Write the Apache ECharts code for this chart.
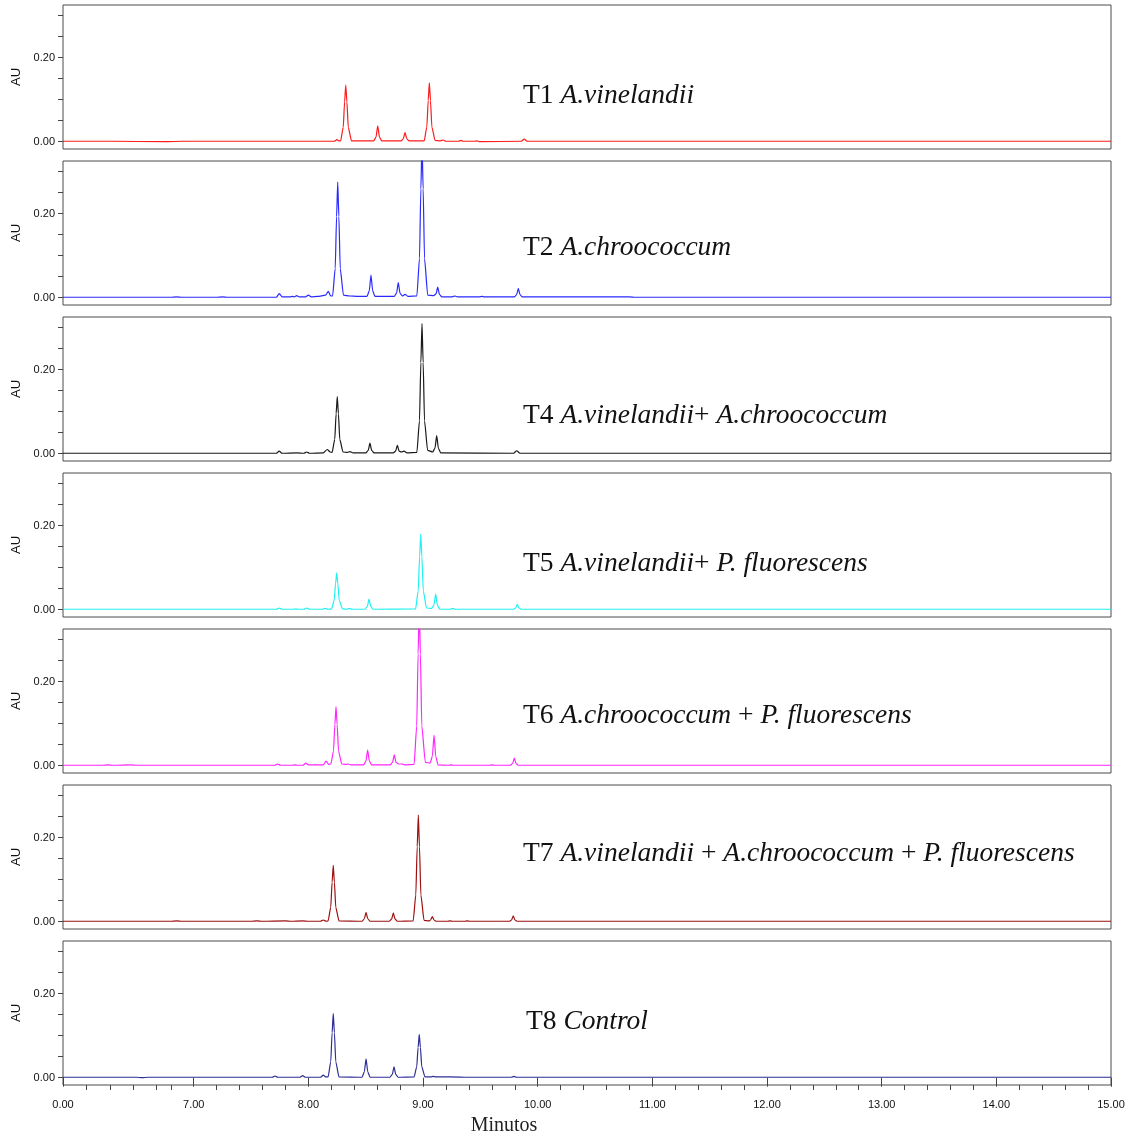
<!DOCTYPE html>
<html><head><meta charset="utf-8">
<script src="https://cdn.jsdelivr.net/npm/echarts@6/dist/echarts.min.js"></script>
<style>html,body{margin:0;padding:0;background:#fff}#c{width:1130px;height:1139px}</style>
</head><body><div id="c"></div><script>
// ---- data ----
const xMin = 5.86, xMax = 15;
const xLabelValues = [5.86, 7, 8, 9, 10, 11, 12, 13, 14, 15];
const xMinorTicks = [6.06, 6.27, 6.47, 6.67, 6.8, 7.2, 7.4, 7.6, 7.8, 8.2, 8.4, 8.6, 8.8, 9.2, 9.4, 9.6, 9.8, 10.2, 10.4, 10.6, 10.8, 11.2, 11.4, 11.6, 11.8, 12.2, 12.4, 12.6, 12.8, 13.2, 13.4, 13.6, 13.8, 14.2, 14.4, 14.6, 14.8];
const yTickValues = [0, 0.05, 0.1, 0.15, 0.2, 0.25, 0.3];
const yLabelValues = [0, 0.2];
const panelNames = ['T1', 'T2', 'T4', 'T5', 'T6', 'T7', 'T8'];
const panelLabels = [
  '{n|T1 }{i|A.vinelandii}',
  '{n|T2 }{i|A.chroococcum}',
  '{n|T4 }{i|A.vinelandii}{n|+ }{i|A.chroococcum}',
  '{n|T5 }{i|A.vinelandii}{n|+ }{i|P. fluorescens}',
  '{n|T6 }{i|A.chroococcum}{n| + }{i|P. fluorescens}',
  '{n|T7 }{i|A.vinelandii}{n| + }{i|A.chroococcum}{n| + }{i|P. fluorescens}',
  '{n|T8 }{i|Control}'
];
const traceT1 = [[5.86,0.001],[6.3,0.001],[6.75,0.0],[6.9,0.001],[7.5,0.001],[8.225,0.001],[8.25,0.005],[8.265,0.002],[8.281,0.002],[8.304,0.034],[8.316,0.095],[8.326,0.135],[8.336,0.095],[8.348,0.034],[8.376,0.002],[8.57,0.002],[8.59,0.011],[8.605,0.038],[8.62,0.011],[8.64,0.002],[8.808,0.002],[8.828,0.007],[8.843,0.022],[8.858,0.007],[8.878,0.002],[9.01,0.002],[9.033,0.035],[9.045,0.098],[9.055,0.14],[9.065,0.098],[9.077,0.035],[9.105,0.003],[9.15,0.002],[9.177,0.004],[9.2,0.001],[9.31,0.001],[9.33,0.003],[9.35,0.001],[9.45,0.001],[9.47,0.002],[9.49,0.0],[9.855,0.001],[9.883,0.006],[9.91,0.001],[15,0.001]];
const traceT2 = [[5.86,0.001],[6.8,0.001],[6.85,0.002],[6.9,0.001],[7.2,0.001],[7.25,0.002],[7.3,0.001],[7.721,0.001],[7.746,0.01],[7.771,0.002],[7.84,0.002],[7.86,0.003],[7.878,0.002],[7.898,0.005],[7.92,0.002],[7.975,0.002],[8.0,0.006],[8.025,0.002],[8.08,0.003],[8.15,0.006],[8.174,0.015],[8.195,0.004],[8.211,0.004],[8.234,0.069],[8.246,0.193],[8.256,0.275],[8.266,0.193],[8.278,0.069],[8.306,0.006],[8.36,0.004],[8.43,0.003],[8.511,0.003],[8.531,0.016],[8.546,0.054],[8.561,0.016],[8.581,0.003],[8.7,0.003],[8.749,0.003],[8.769,0.011],[8.784,0.036],[8.799,0.011],[8.819,0.004],[8.843,0.008],[8.87,0.003],[8.946,0.004],[8.969,0.093],[8.981,0.259],[8.991,0.37],[9.001,0.259],[9.013,0.093],[9.041,0.006],[9.093,0.005],[9.113,0.009],[9.128,0.025],[9.143,0.008],[9.163,0.002],[9.255,0.002],[9.279,0.004],[9.3,0.002],[9.49,0.002],[9.512,0.003],[9.535,0.002],[9.796,0.002],[9.816,0.007],[9.831,0.022],[9.846,0.007],[9.866,0.002],[10.8,0.002],[10.85,0.001],[15,0.001]];
const traceT4 = [[5.86,0.001],[7.72,0.001],[7.746,0.006],[7.77,0.001],[7.9,0.002],[7.96,0.001],[7.985,0.004],[8.01,0.001],[8.13,0.002],[8.165,0.01],[8.19,0.004],[8.207,0.003],[8.23,0.034],[8.242,0.095],[8.252,0.136],[8.262,0.095],[8.274,0.034],[8.302,0.004],[8.34,0.003],[8.363,0.005],[8.39,0.002],[8.43,0.002],[8.502,0.002],[8.522,0.008],[8.537,0.025],[8.552,0.008],[8.572,0.002],[8.741,0.002],[8.761,0.006],[8.776,0.02],[8.791,0.006],[8.811,0.004],[8.834,0.006],[8.86,0.002],[8.946,0.003],[8.969,0.078],[8.981,0.217],[8.991,0.31],[9.001,0.217],[9.013,0.078],[9.04,0.008],[9.084,0.004],[9.104,0.013],[9.119,0.043],[9.134,0.013],[9.154,0.002],[9.79,0.001],[9.817,0.007],[9.845,0.001],[15,0.001]];
const traceT5 = [[5.86,0.001],[7.72,0.001],[7.746,0.004],[7.77,0.001],[7.87,0.001],[7.892,0.002],[7.91,0.001],[7.96,0.001],[7.985,0.004],[8.01,0.001],[8.12,0.001],[8.145,0.003],[8.17,0.001],[8.202,0.002],[8.225,0.022],[8.237,0.062],[8.247,0.088],[8.257,0.062],[8.269,0.022],[8.297,0.002],[8.335,0.001],[8.357,0.003],[8.38,0.001],[8.494,0.001],[8.514,0.008],[8.529,0.025],[8.544,0.008],[8.564,0.001],[8.935,0.002],[8.958,0.045],[8.97,0.126],[8.98,0.18],[8.99,0.126],[9.002,0.045],[9.03,0.004],[9.075,0.003],[9.095,0.011],[9.11,0.037],[9.125,0.011],[9.145,0.001],[9.235,0.001],[9.259,0.003],[9.28,0.001],[9.787,0.001],[9.807,0.004],[9.822,0.013],[9.837,0.004],[9.857,0.001],[15,0.001]];
const traceT6 = [[5.86,0.001],[6.2,0.001],[6.25,0.002],[6.3,0.001],[6.45,0.002],[6.5,0.001],[7.708,0.001],[7.732,0.004],[7.756,0.001],[7.86,0.001],[7.883,0.002],[7.905,0.001],[7.952,0.001],[7.977,0.006],[8.0,0.002],[8.13,0.002],[8.154,0.011],[8.178,0.003],[8.196,0.004],[8.219,0.035],[8.231,0.098],[8.241,0.14],[8.251,0.098],[8.263,0.035],[8.291,0.004],[8.325,0.003],[8.348,0.004],[8.37,0.002],[8.482,0.002],[8.502,0.011],[8.517,0.037],[8.532,0.011],[8.552,0.002],[8.714,0.002],[8.734,0.008],[8.749,0.026],[8.764,0.008],[8.784,0.004],[8.814,0.004],[8.84,0.002],[8.922,0.003],[8.945,0.095],[8.957,0.266],[8.967,0.38],[8.977,0.266],[8.989,0.095],[9.02,0.008],[9.061,0.006],[9.081,0.022],[9.096,0.073],[9.111,0.022],[9.131,0.002],[9.22,0.001],[9.244,0.002],[9.265,0.001],[9.58,0.001],[9.604,0.002],[9.625,0.001],[9.761,0.001],[9.781,0.005],[9.796,0.018],[9.811,0.005],[9.831,0.001],[15,0.001]];
const traceT7 = [[5.86,0.001],[6.8,0.001],[6.85,0.002],[6.9,0.001],[7.5,0.001],[7.55,0.002],[7.6,0.001],[7.8,0.002],[7.85,0.001],[7.95,0.002],[8.0,0.001],[8.105,0.001],[8.13,0.004],[8.155,0.001],[8.172,0.002],[8.195,0.034],[8.207,0.094],[8.217,0.134],[8.227,0.094],[8.239,0.034],[8.267,0.002],[8.468,0.001],[8.488,0.007],[8.503,0.022],[8.518,0.007],[8.538,0.001],[8.706,0.001],[8.726,0.006],[8.741,0.021],[8.756,0.006],[8.776,0.001],[8.914,0.002],[8.937,0.064],[8.949,0.178],[8.959,0.254],[8.969,0.178],[8.981,0.064],[9.009,0.003],[9.051,0.002],[9.066,0.004],[9.081,0.012],[9.096,0.004],[9.116,0.001],[9.21,0.001],[9.235,0.002],[9.26,0.001],[9.36,0.001],[9.386,0.002],[9.41,0.001],[9.752,0.001],[9.772,0.004],[9.787,0.014],[9.802,0.004],[9.822,0.001],[15,0.001]];
const traceT8 = [[5.86,0.001],[6.5,0.001],[6.55,0.0],[6.6,0.001],[7.685,0.001],[7.709,0.004],[7.733,0.001],[7.925,0.001],[7.95,0.005],[7.975,0.001],[8.105,0.001],[8.13,0.006],[8.15,0.002],[8.172,0.002],[8.195,0.038],[8.207,0.107],[8.217,0.153],[8.227,0.107],[8.239,0.038],[8.267,0.002],[8.468,0.001],[8.488,0.014],[8.503,0.045],[8.518,0.014],[8.538,0.001],[8.712,0.001],[8.732,0.008],[8.747,0.026],[8.762,0.008],[8.782,0.001],[8.922,0.002],[8.945,0.026],[8.957,0.072],[8.967,0.103],[8.977,0.072],[8.989,0.026],[9.017,0.002],[9.07,0.002],[9.089,0.003],[9.11,0.002],[9.235,0.002],[9.4,0.001],[9.77,0.001],[9.793,0.003],[9.815,0.001],[15,0.001]];
const traces = [traceT1, traceT2, traceT4, traceT5, traceT6, traceT7, traceT8];

// ---- styles / layout ----
const colors = ['#ff1a1a', '#2a2aff', '#1a1a1a', '#22f0f0', '#ff26ff', '#9c1010', '#2e2e96'];
const labelY = [96, 248, 416, 564, 716, 854, 1022];
const labelX = [523, 523, 523, 523, 523, 523, 526];
const gridTop0 = 5, gridStep = 156, gridH = 144, gridLeft = 63, gridW = 1048;
const sans = '"Liberation Sans", Arial, sans-serif';
const serif = '"Liberation Serif", "Times New Roman", serif';
const labelFont = 27.5;

const grid = [], xAxis = [], yAxis = [], series = [];
panelNames.forEach((name, i) => {
  grid.push({left: gridLeft, width: gridW, top: gridTop0 + gridStep * i, height: gridH,
    show: true, borderColor: '#4a4a4a', borderWidth: 1, backgroundColor: 'transparent'});
  const last = i === panelNames.length - 1;
  xAxis.push({
    gridIndex: i, type: 'value', min: xMin, max: xMax, show: last,
    axisLine: {show: false}, splitLine: {show: false},
    axisTick: {show: last, customValues: xLabelValues, length: 9, lineStyle: {color: '#444'}},
    axisLabel: {show: last, customValues: xLabelValues, margin: 14, fontSize: 11, fontFamily: sans, color: '#111',
      formatter: v => Math.abs(v - xMin) < 1e-6 ? '0.00' : v.toFixed(2)}
  });
  yAxis.push({
    gridIndex: i, type: 'value', min: -0.0174, max: 0.3255,
    axisLine: {show: false}, splitLine: {show: false},
    axisTick: {show: true, customValues: yTickValues, length: 5, lineStyle: {color: '#444'}},
    axisLabel: {customValues: yLabelValues, margin: 8, fontSize: 11, fontFamily: sans, color: '#111',
      formatter: v => v.toFixed(2)},
    name: 'AU', nameLocation: 'middle', nameGap: 40,
    nameTextStyle: {fontSize: 13, fontFamily: sans, color: '#111'}
  });
  series.push({
    name: name, type: 'line', xAxisIndex: i, yAxisIndex: i, data: traces[i],
    showSymbol: false, symbol: 'none', clip: true, silent: true,
    smooth: 0.2, smoothMonotone: 'x',
    lineStyle: {color: colors[i], width: 1.2}
  });
});
// minor ticks on the bottom axis
xAxis.push({
  gridIndex: panelNames.length - 1, type: 'value', min: xMin, max: xMax, position: 'bottom',
  axisLine: {show: false}, splitLine: {show: false}, axisLabel: {show: false},
  axisTick: {show: true, customValues: xMinorTicks, length: 5, lineStyle: {color: '#444'}}
});

const graphic = panelLabels.map((t, i) => ({
  type: 'text', x: labelX[i], y: labelY[i], silent: true,
  style: {
    text: t, verticalAlign: 'middle', fill: '#111', fontSize: labelFont, fontFamily: serif,
    rich: {
      n: {fontSize: labelFont, fontFamily: serif, fill: '#111'},
      i: {fontSize: labelFont, fontFamily: serif, fontStyle: 'italic', fill: '#111'}
    }
  }
}));
graphic.push({type: 'text', x: 504, y: 1126, silent: true,
  style: {text: 'Minutos', align: 'center', verticalAlign: 'middle', fontSize: 20, fontFamily: serif, fill: '#222'}});

const chart = echarts.init(document.getElementById('c'), null, {renderer: 'canvas'});
chart.setOption({animation: false, backgroundColor: '#fff', grid, xAxis, yAxis, series, graphic});
</script></body></html>
